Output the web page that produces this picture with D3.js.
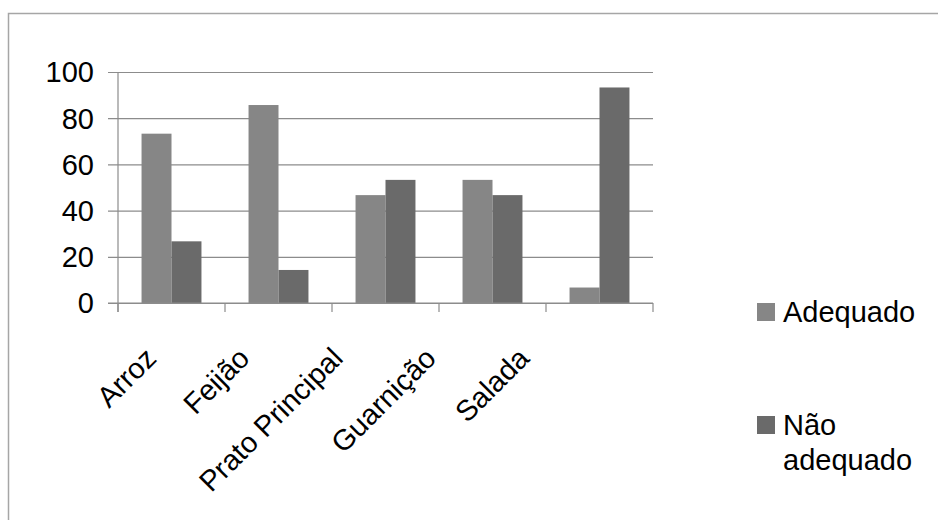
<!DOCTYPE html>
<html>
<head>
<meta charset="utf-8">
<script src="https://cdn.jsdelivr.net/npm/d3@7"></script>
<style>
  html, body { margin: 0; padding: 0; background: #fff; }
  svg { display: block; font-family: "Liberation Sans", Arial, sans-serif; }
</style>
</head>
<body>
<svg id="chart" width="938" height="520"></svg>
<script>
// Avaliação das preparações (%)
const categories = ["Arroz", "Feijão", "Prato Principal", "Guarnição", "Salada"];
const seriesNames = ["Adequado", "Não adequado"];
const adequado = [73.3, 85.7, 46.7, 53.3, 6.7];
const naoAdequado = [26.7, 14.3, 53.3, 46.7, 93.3];
const yTicks = [0, 20, 40, 60, 80, 100];
const colors = ["#868686", "#6a6a6a"];

const FONT = 29;
const svg = d3.select("#chart");

// chart frame
svg.append("path")
  .attr("d", "M8.5,520 V13.5 H938")
  .attr("fill", "none")
  .attr("stroke", "#a6a6a6")
  .attr("stroke-width", 1.5);

const plot = { left: 118, right: 653, top: 72, bottom: 303 };

const x = d3.scaleBand()
  .domain(categories)
  .range([plot.left, plot.right])
  .paddingInner(0.44)
  .paddingOuter(0.22);

const xSub = d3.scaleBand()
  .domain(seriesNames)
  .range([0, x.bandwidth()]);

const y = d3.scaleLinear()
  .domain([0, 100])
  .range([plot.bottom, plot.top]);

// horizontal gridlines, starting at the outside tick mark
const yAxis = d3.axisLeft(y)
  .tickValues(yTicks)
  .tickSize(-(plot.right - plot.left) - 10)
  .tickFormat("");

const gy = svg.append("g")
  .attr("transform", `translate(${plot.left - 10},0)`)
  .call(yAxis);
gy.select(".domain").remove();
gy.selectAll(".tick line")
  .attr("stroke", "#8c8c8c")
  .attr("stroke-width", 1.2);

// y tick labels
svg.append("g").selectAll("text")
  .data(yTicks)
  .join("text")
  .attr("x", 94)
  .attr("y", d => y(d))
  .attr("dy", "0.36em")
  .attr("text-anchor", "end")
  .attr("font-size", FONT)
  .attr("fill", "#000")
  .text(d => d);

// vertical axis line
svg.append("line")
  .attr("x1", plot.left).attr("x2", plot.left)
  .attr("y1", plot.top).attr("y2", plot.bottom + 9)
  .attr("stroke", "#8c8c8c")
  .attr("stroke-width", 1.2);

// category boundary ticks along the bottom
const boundaries = d3.range(categories.length + 1)
  .map(i => plot.left + i * (plot.right - plot.left) / categories.length);
svg.append("g").selectAll("line")
  .data(boundaries)
  .join("line")
  .attr("x1", d => d).attr("x2", d => d)
  .attr("y1", plot.bottom).attr("y2", plot.bottom + 9)
  .attr("stroke", "#8c8c8c")
  .attr("stroke-width", 1.2);

// bars
const rows = categories.map((c, i) => ({ cat: c, values: [adequado[i], naoAdequado[i]] }));
const groups = svg.append("g").selectAll("g")
  .data(rows)
  .join("g")
  .attr("transform", d => `translate(${x(d.cat)},0)`);
groups.selectAll("rect")
  .data(d => d.values.map((v, k) => ({ name: seriesNames[k], v, k })))
  .join("rect")
  .attr("x", d => xSub(d.name))
  .attr("y", d => y(d.v))
  .attr("width", xSub.bandwidth())
  .attr("height", d => y(0) - y(d.v))
  .attr("fill", d => colors[d.k]);

// baseline drawn over the bars
svg.append("line")
  .attr("x1", plot.left - 10).attr("x2", plot.right)
  .attr("y1", y(0)).attr("y2", y(0))
  .attr("stroke", "#8c8c8c")
  .attr("stroke-width", 1.2);

// rotated category labels
const labelX = d3.scalePoint()
  .domain(categories)
  .range([158, 531]);
svg.append("g").selectAll("text")
  .data(categories)
  .join("text")
  .attr("transform", d => `translate(${labelX(d)},${360}) rotate(-45)`)
  .attr("text-anchor", "end")
  .attr("font-size", FONT)
  .attr("fill", "#000")
  .text(d => d);

// legend
const legend = svg.append("g");
const legendItems = [
  { lines: ["Adequado"], y: 303 },
  { lines: ["Não", "adequado"], y: 416 }
];
legendItems.forEach((it, k) => {
  legend.append("rect")
    .attr("x", 757).attr("y", it.y)
    .attr("width", 18).attr("height", 18)
    .attr("fill", colors[k]);
  const t = legend.append("text")
    .attr("x", 783)
    .attr("y", it.y + 19)
    .attr("font-size", FONT)
    .attr("fill", "#000");
  it.lines.forEach((ln, j) => {
    t.append("tspan")
      .attr("x", 783)
      .attr("dy", j === 0 ? 0 : 35)
      .text(ln);
  });
});
</script>
</body>
</html>
